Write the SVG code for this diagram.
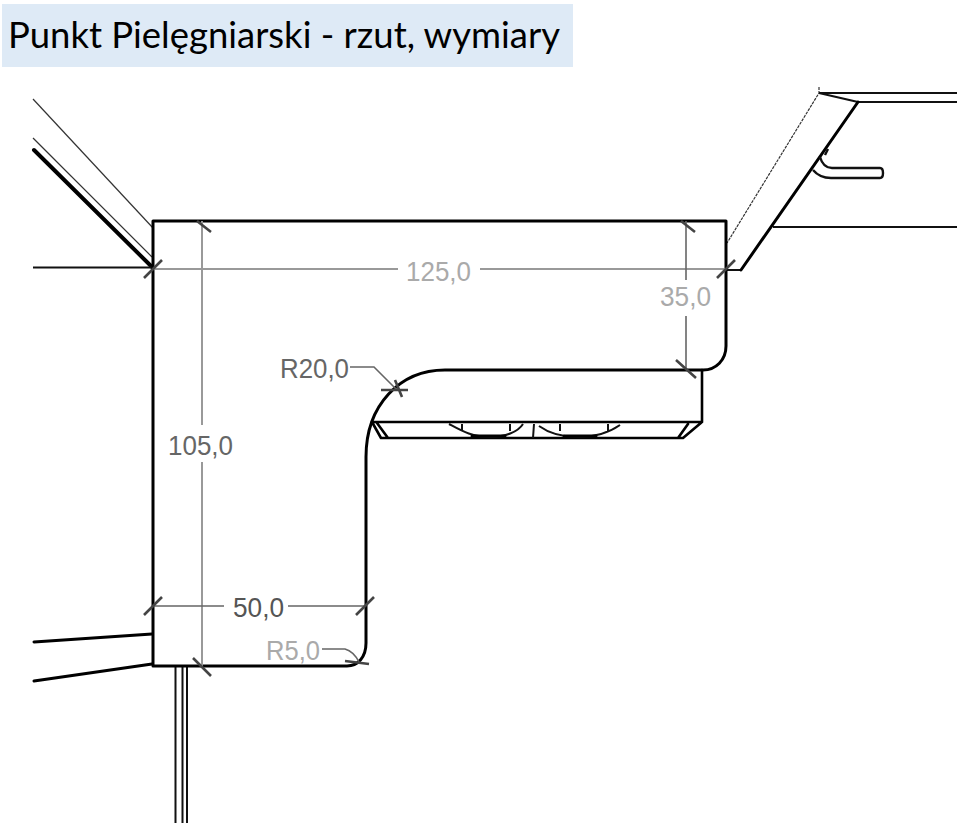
<svg xmlns="http://www.w3.org/2000/svg" width="960" height="827" viewBox="0 0 960 827">
<style>
.k{fill:none;stroke:#000;stroke-width:3;stroke-linecap:round;stroke-linejoin:round}
.m{fill:none;stroke:#111;stroke-width:2}
.t{fill:none;stroke:#333;stroke-width:1.2}
.d{fill:none;stroke:#999;stroke-width:2}
.dd{fill:none;stroke:#666;stroke-width:1.6}
.x{fill:none;stroke:#444;stroke-width:2.6}
.l{font-family:"Liberation Sans",Arial,sans-serif;font-size:27px}
</style>
<rect x="2" y="4" width="571" height="63" fill="#deeaf6"/>
<text x="8" y="48" font-family="Lato,'Noto Sans',sans-serif" font-size="37" fill="#000" textLength="552" lengthAdjust="spacingAndGlyphs">Punkt Pielęgniarski - rzut, wymiary</text>
<g id="walls">
<path class="t" d="M33 99 153 228" stroke-width="1.500"/>
<path class="t" d="M33 138 152 257"/>
<path class="k" d="M34 150 152 267" style="stroke-width:4"/>
<path class="m" d="M33 267.500H152"/>
<path class="t" d="M819 87V93L727 243" stroke-dasharray="3 1"/>
<path class="m" d="M819 93 858 102M819 93H957M858 102H957M773 227H957M726 270H741"/>
<path class="k" d="M741 270 858 102"/>
<path class="m" d="M813 170C818 176 823 178 831 178H880C884 178 884 168 880 168H832C826 168 822 164 820 157M825 155 828 149" style="stroke-width:2.400"/>
<path class="k" d="M34 642 152 634M34 681 152 664"/>
<path class="m" d="M175.500 667V823M182.500 667V823M187 667V823"/>
</g>
<g id="outline">
<path class="k" d="M153 221H726V346C726 360 716 370 703 370H445C400 370 366 405 366 457V643C366 657 358 666 347 666H153Z"/>
</g>
<g id="unit">
<path class="k" d="M702 370V422H372M372 422 381 438H683L702 422M377 423 388 438M688 424 678 438" style="stroke-width:2.600"/>
<path class="m" d="M449 424C462 431 472 437 490 437C505 437 518 432 523 424M462 424V431M510 424V431M533 438 534 424M539 426C550 434 562 437 578 437C595 437 610 432 620 425M560 424V431M608 424V431"/>
<path class="k" d="M472 436H505M564 436H596" style="stroke-width:3"/>
</g>
<g id="dimensions">
<path class="d" d="M153 269H398M480 269H726M202 221V425M202 462V666"/>
<path class="dd" d="M686 221V280M686 316V370M153 606H224M288 606H366M350 367H374L397 390M322 649H345C352 651 356 656 359 662"/>
<path class="x" d="M144 278 162 260M197 221 211 232M717 278 735 260M681 221 695 232M676 360 696 378M381 390 408 390M144 615 162 597M356 615 374 597M193 658 211 676M345 661 369 664M395 380 402 397"/>
</g>
<g id="labels">
<text class="l" x="406" y="281" fill="#aaa" textLength="65" lengthAdjust="spacingAndGlyphs">125,0</text>
<text class="l" x="660" y="306" fill="#aaa" textLength="51" lengthAdjust="spacingAndGlyphs">35,0</text>
<text class="l" x="280" y="378" fill="#666" textLength="69" lengthAdjust="spacingAndGlyphs">R20,0</text>
<text class="l" x="168" y="455" fill="#666" textLength="65" lengthAdjust="spacingAndGlyphs">105,0</text>
<text class="l" x="233" y="617" fill="#555" textLength="51" lengthAdjust="spacingAndGlyphs">50,0</text>
<text class="l" x="266" y="660" fill="#aaa" textLength="54" lengthAdjust="spacingAndGlyphs">R5,0</text>
</g>
</svg>
